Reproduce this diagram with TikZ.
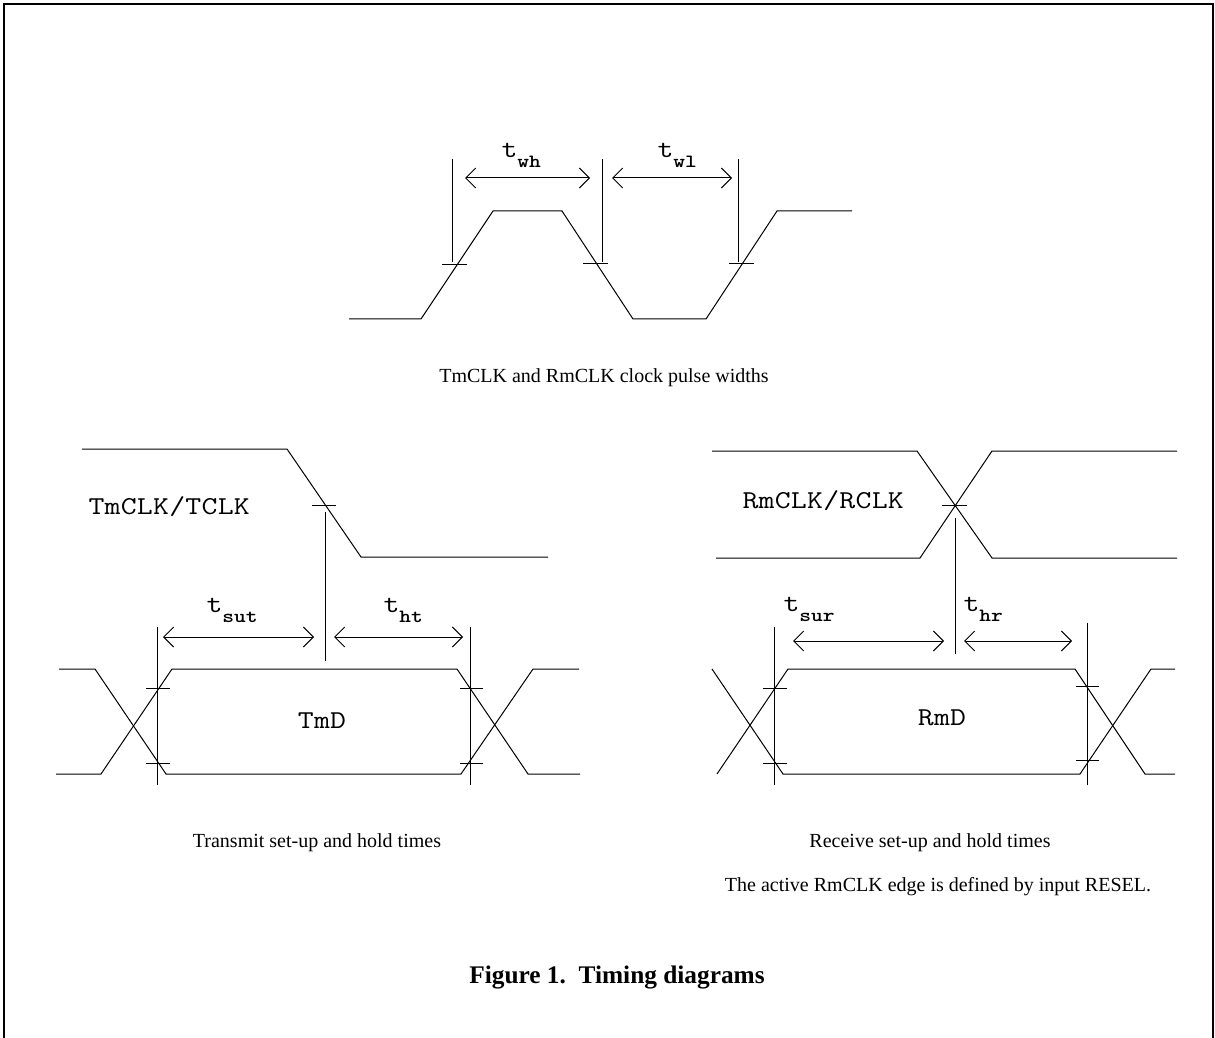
\documentclass[tikz,border=0pt]{standalone}
\usepackage{fontspec}
\setmainfont{Liberation Serif}
\setmonofont[FakeStretch=1.2,LetterSpace=1]{Latin Modern Mono}
\newfontfamily\subtt[Extension=.otf,FakeStretch=1.2]{lmmonolt10-bold}
\usetikzlibrary{arrows.meta}

\newcommand{\tdim}[1]{t\raisebox{-7.5pt}{\fontsize{14}{16}\subtt #1}}

\tikzset{every picture/.style={line width=0.75pt}}
\tikzset{
  dimarrow/.style={{Straight Barb[length=7.5pt,width=15pt]}-{Straight Barb[length=7.5pt,width=15pt]}},
  sigfont/.style={font=\fontsize{19.3}{22}\selectfont\ttfamily},
  capfont/.style={font=\fontsize{15}{17}\selectfont},
}

\begin{document}
\begin{tikzpicture}[x=0.75pt,y=0.75pt,yscale=-1,xscale=1]
\useasboundingbox (0,0) rectangle (1215,1038);

%Frame
\draw [line width=1.1pt]  (4,1038) -- (4,4) -- (1213,4) -- (1213,1038) ;

%Clock waveform (pulse widths)
\draw    (349,319) -- (421,319) -- (493,211) -- (562,211) -- (633,319) -- (706,319) -- (777,211) -- (852,211) ;
%Straight Lines
\draw    (452,159) -- (452,262) ;
\draw    (602,159) -- (602,262) ;
\draw    (738,159) -- (738,262) ;
%Straight Lines
\draw    (442,265) -- (467,265) ;
\draw    (583,264) -- (608,264) ;
\draw    (729,264) -- (754,264) ;
%Dimension arrows
\draw [dimarrow]  (465,178) -- (590,178) ;
\draw [dimarrow]  (612,178) -- (732,178) ;

% Text Node
\draw (501,158) node (twh) [anchor=base west][inner sep=0pt] [sigfont] {\tdim{wh}};
% Text Node
\draw (657,158) node (twl) [anchor=base west][inner sep=0pt] [sigfont] {\tdim{wl}};
% Text Node
\draw (604,378) node (capclk) [capfont] {TmCLK and RmCLK clock pulse widths};

%Transmit clock
\draw    (82,449) -- (287,449) -- (361,557) -- (548,557) ;
\draw    (312,505) -- (336,505) ;
\draw    (325,512) -- (325,661) ;
%Transmit data
\draw    (59,669) -- (95,669) -- (166,774) -- (461,774) -- (533,669) -- (579,669) ;
\draw    (56,774) -- (101,774) -- (172,669) -- (457,669) -- (528,774) -- (580,774) ;
%Straight Lines
\draw    (157,627) -- (157,785) ;
\draw    (470,627) -- (470,785) ;
\draw    (146,688) -- (170,688) ;
\draw    (146,763) -- (170,763) ;
\draw    (460,688) -- (483,688) ;
\draw    (460,763) -- (483,763) ;
%Dimension arrows
\draw [dimarrow]  (163,637) -- (314,637) ;
\draw [dimarrow]  (334,637) -- (463,637) ;

% Text Node
\draw (88,514) node (tclk) [anchor=base west][inner sep=0pt] [sigfont] {TmCLK/TCLK};
% Text Node
\draw (322,721) node (tmd) [sigfont] {TmD};
% Text Node
\draw (206,612) node (tsut) [anchor=base west][inner sep=0pt] [sigfont] {\tdim{sut}};
% Text Node
\draw (383,612) node (tht) [anchor=base west][inner sep=0pt] [sigfont] {\tdim{ht}};
% Text Node
\draw (317,843) node (captx) [capfont] {Transmit set-up and hold times};

%Receive clock
\draw    (712,451) -- (917,451) -- (992,558) -- (1177,558) ;
\draw    (716,558) -- (920,558) -- (992,451) -- (1177,451) ;
\draw    (942,505) -- (967,505) ;
\draw    (955,518) -- (955,654) ;
%Receive data
\draw    (712,669) -- (783,774) -- (1080,774) -- (1151,669) -- (1175,669) ;
\draw    (717,774) -- (788,669) -- (1075,669) -- (1145,774) -- (1175,774) ;
%Straight Lines
\draw    (774,627) -- (774,785) ;
\draw    (1087,623) -- (1087,785) ;
\draw    (763,688) -- (787,688) ;
\draw    (763,763) -- (787,763) ;
\draw    (1076,686) -- (1099,686) ;
\draw    (1076,760) -- (1099,760) ;
%Dimension arrows
\draw [dimarrow]  (793,641) -- (944,641) ;
\draw [dimarrow]  (964,641) -- (1072,641) ;

% Text Node
\draw (742,508) node (rclk) [anchor=base west][inner sep=0pt] [sigfont] {RmCLK/RCLK};
% Text Node
\draw (942,718) node (rmd) [sigfont] {RmD};
% Text Node
\draw (783,611) node (tsur) [anchor=base west][inner sep=0pt] [sigfont] {\tdim{sur}};
% Text Node
\draw (963,611) node (thr) [anchor=base west][inner sep=0pt] [sigfont] {\tdim{hr}};
% Text Node
\draw (930,843) node (caprx) [capfont] {Receive set-up and hold times};
% Text Node
\draw (938,887) node (capnote) [capfont] {The active RmCLK edge is defined by input RESEL.};

% Text Node
\draw (617,978) node (capfig) [font=\fontsize{19}{21}\selectfont\bfseries] {Figure 1.\ \ Timing diagrams};

\end{tikzpicture}
\end{document}
